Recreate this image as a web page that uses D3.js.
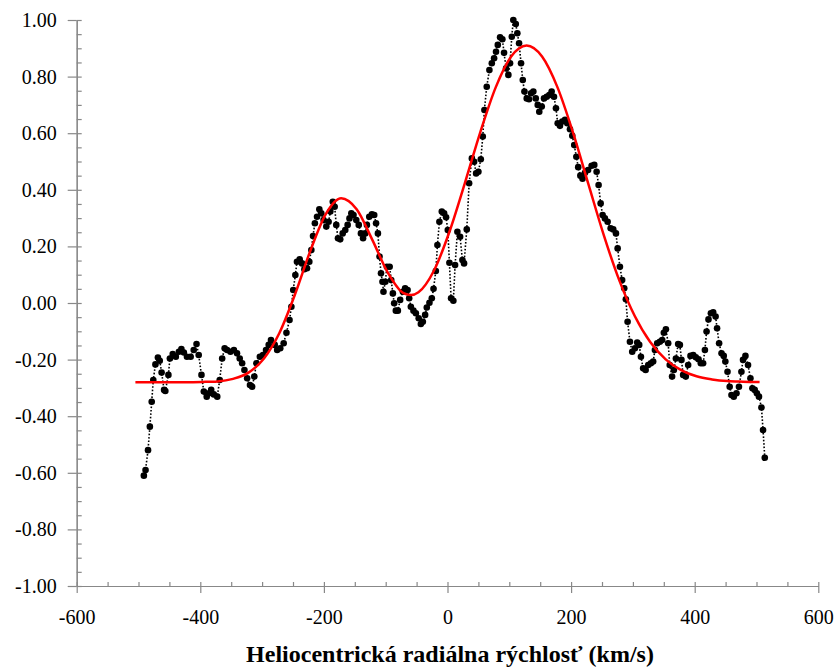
<!DOCTYPE html>
<html><head><meta charset="utf-8">
<script src="https://cdn.jsdelivr.net/npm/d3@7"></script>
<style>
body{margin:0;background:#fff;}
svg{display:block;}
text{font-family:"Liberation Serif","Times New Roman",serif;}
</style></head>
<body>
<svg id="chart" width="839" height="670"></svg>
<script>
// Observed spectrum (velocity km/s, normalised flux)
const obsV = [-491.3,-488.6,-484.6,-481.6,-478.6,-476.1,-472.6,-468.6,-465.6,-462.6,-458.6,-456.6,-451.6,-449.2,-444.6,-439.6,-434.6,-430.6,-426.6,-421.6,-415.6,-410.6,-406.1,-402.6,-398.1,-394.3,-389.6,-386.2,-382.4,-378.2,-372.6,-368.6,-364.6,-360.6,-356.6,-351.2,-345.6,-340.6,-336.2,-332.3,-328.6,-324.2,-319.6,-316.1,-312.6,-309.2,-303.6,-298.6,-293.6,-289.3,-285.6,-279.6,-275.6,-270.6,-265.1,-260.6,
-255.6,-252.6,-249.6,-246.2,-243.6,-239.2,-235.4,-231.6,-227.3,-223.6,-220.3,-217.6,-214.6,-211.1,-207.4,-204.2,-200.5,-196.1,-192.4,-189.6,-185.6,-182.6,-180,-177.2,-173.6,-169.6,-165.4,-161.6,-158.6,-155.6,-152.1,-147.6,-143.6,-140.1,-136.6,-133.1,-130.4,-126.6,-122.3,-118.6,-115.6,-112.6,-110,-107.6,-105.2,-103.6,-100.6,-98.1,-93.6,-91.1,-88.4,-86.3,-83.6,-80.3,-76.6,-72.2,-68.6,-64.6,-62,-59.3,-55.1,-51.2,-46.6,-43.1,-39.9,-36.2,-33.5,-29.2,-25.4,-22.6,-18.9,-16.3,-13.1,-9.2,-5.5,-2.3,0.5,3.1,5.8,9.5,12.3,16,20.4,24.1,26.8,31.2,
35,39.4,43.1,46.3,50,53.9,57.1,59.7,63.5,67.8,71.7,75.4,78.5,81.4,85.1,88.8,91.5,94.8,98.5,101.2,104,106.5,110.5,113,115.8,119,121.8,124.5,128.2,131.9,135.2,138.9,142.8,146,148.5,152.5,156.2,160.5,164.7,168.5,172.3,175.5,178.3,182,185.7,190.1,193.8,198.2,201.9,205.1,208.5,211.5,215,218.5,222.5,227.5,233.2,237.5,241.3,244.5,247.8,251,254.7,259.1,264,268.2,272.6,275.3,279,282.6,286,288.6,291.4,295.2,298.9,303.3,307,310.2,313,316.6,320.6,324.8,329.1,332.8,335.6,339.3,343.6,347.4,350.1,353.4,357.1,359.6,363.4,366.3,369.6,373.2,376,378.6,381.3,385.6,389.4,393.2,397.6,401.8,406.2,409.9,413.6,416.5,419.2,422.3,426.2,429.9,433.8,436.2,439.5,443.4,447,449.6,453.1,456.6,459.5,463.2,467.6,471.6,475.6,478.2,482.1,486.3,490.2,493.4,497.1,500.6,504,508,510.6,513.4];
const obsFlux = [-0.610,-0.590,-0.520,-0.437,-0.349,-0.272,-0.217,-0.193,-0.204,-0.246,-0.307,-0.311,-0.254,-0.196,-0.180,-0.190,-0.172,-0.163,-0.175,-0.190,-0.190,-0.166,-0.145,-0.184,-0.254,-0.313,-0.331,-0.319,-0.307,-0.323,-0.331,-0.272,-0.196,-0.160,-0.166,-0.172,-0.166,-0.178,-0.196,-0.213,-0.237,-0.266,-0.290,-0.296,-0.260,-0.213,-0.190,-0.184,-0.166,-0.148,-0.131,-0.148,-0.166,-0.160,-0.142,-0.105,
-0.060,-0.013,0.046,0.099,0.146,0.154,0.140,0.119,0.123,0.146,0.187,0.237,0.282,0.305,0.331,0.317,0.293,0.270,0.287,0.323,0.358,0.340,0.276,0.229,0.225,0.246,0.258,0.276,0.299,0.317,0.311,0.293,0.276,0.246,0.229,0.246,0.276,0.305,0.313,0.311,0.282,0.246,0.164,0.105,0.075,0.040,0.075,0.128,0.128,0.081,0.034,-0.001,-0.027,-0.027,0.011,0.040,0.052,0.046,0.017,-0.013,-0.027,-0.036,-0.054,-0.074,-0.066,-0.042,-0.016,0.001,0.017,0.050,0.113,0.205,0.287,0.323,0.317,0.303,0.258,0.142,0.017,0.008,0.134,0.252,0.234,0.152,0.140,0.260,
0.423,0.511,0.499,0.458,0.464,0.508,0.588,0.682,0.764,0.823,0.847,0.865,0.888,0.912,0.939,0.932,0.884,0.829,0.806,0.847,0.941,1.000,0.986,0.953,0.918,0.847,0.788,0.747,0.723,0.720,0.741,0.747,0.723,0.700,0.676,0.694,0.723,0.729,0.735,0.747,0.729,0.688,0.635,0.626,0.641,0.647,0.635,0.614,0.591,0.558,0.517,0.480,0.450,0.439,0.460,0.470,0.485,0.488,0.464,0.417,0.352,0.311,0.299,0.287,0.264,0.260,0.246,0.193,0.128,0.081,0.052,0.013,-0.066,-0.137,-0.172,-0.160,-0.140,-0.148,-0.190,-0.231,-0.237,-0.219,-0.213,-0.207,-0.166,-0.142,-0.137,-0.131,-0.105,-0.093,-0.142,-0.219,-0.260,-0.237,-0.196,-0.145,-0.148,-0.201,-0.254,-0.260,-0.219,-0.187,-0.184,-0.192,-0.199,-0.213,-0.213,-0.166,-0.101,-0.058,-0.036,-0.033,-0.048,-0.089,-0.142,-0.178,-0.187,-0.207,-0.243,-0.296,-0.325,-0.331,-0.319,-0.296,-0.243,-0.201,-0.187,-0.219,-0.266,-0.301,-0.307,-0.319,-0.331,-0.369,-0.449,-0.547];

// Fitted profile (red curve)
const fitV = [-505,-472,-447,-422,-397,-372,-347,-322,-297,-272,-247,-222,-197,-172,-147,-122,-97,-72,-59,-47,-22,3,28,53,78,103,128,153,178,203,228,253,278,303,328,353,378,403,428,453,478,505];
const fitFlux = [-0.280,-0.280,-0.280,-0.280,-0.279,-0.277,-0.268,-0.246,-0.196,-0.106,0.029,0.184,0.314,0.370,0.331,0.225,0.109,0.036,0.028,0.038,0.114,0.251,0.423,0.603,0.762,0.871,0.910,0.871,0.762,0.603,0.420,0.239,0.080,-0.046,-0.138,-0.199,-0.237,-0.259,-0.270,-0.276,-0.278,-0.279];

const xMajor = [-600,-400,-200,0,200,400,600];
const yMajor = [-1,-0.8,-0.6,-0.4,-0.2,0,0.2,0.4,0.6,0.8,1];
const xTitle = "Heliocentrická radiálna rýchlosť (km/s)";

const svg = d3.select("#chart");
const x = d3.scaleLinear().domain([-600,600]).range([76.7,818.3]);
const y = d3.scaleLinear().domain([-1,1]).range([586,20]);
const axisColor = "#888888";
const fmtX = d => String(d3.format("d")(d)).replace("\u2212","-");
const fmtY = d => String(d3.format(".2f")(d)).replace("\u2212","-");

const xMinor = d3.range(-600,601,50);
const yMinor = d3.range(-1,1.0001,0.05);

// outward major ticks + labels
const gx = svg.append("g").attr("transform",`translate(0,${y(-1)})`)
  .call(d3.axisBottom(x).tickValues(xMajor).tickSizeInner(7).tickSizeOuter(0).tickPadding(17).tickFormat(fmtX));
const gy = svg.append("g").attr("transform",`translate(${x(-600)},0)`)
  .call(d3.axisLeft(y).tickValues(yMajor).tickSizeInner(9).tickSizeOuter(0).tickPadding(11).tickFormat(fmtY));
// inward minor ticks
const gx2 = svg.append("g").attr("transform",`translate(0,${y(-1)})`)
  .call(d3.axisBottom(x).tickValues(xMinor).tickSizeInner(-4).tickSizeOuter(0).tickFormat(""));
const gy2 = svg.append("g").attr("transform",`translate(${x(-600)},0)`)
  .call(d3.axisLeft(y).tickValues(yMinor).tickSizeInner(-5).tickSizeOuter(0).tickFormat(""));

[gx,gy,gx2,gy2].forEach(g=>{
  g.attr("font-family","'Liberation Serif', serif").attr("font-size",20);
  g.selectAll("path.domain").attr("stroke",axisColor).attr("stroke-width",1.2);
  g.selectAll(".tick line").attr("stroke",axisColor).attr("stroke-width",1.2);
  g.selectAll(".tick text").attr("fill","#000").style("font-size","20px").style("font-family","'Liberation Serif',serif");
});

// title
svg.append("text").attr("x",450).attr("y",662).attr("text-anchor","middle")
  .style("font-size","24px").style("font-weight","bold").text(xTitle);

const obs = obsV.map((v,i)=>({v, f:obsFlux[i]}));
const fit = fitV.map((v,i)=>({v, f:fitFlux[i]}));

// dotted connecting line
svg.append("path").datum(obs)
  .attr("d", d3.line().x(d=>x(d.v)).y(d=>y(d.f)))
  .attr("fill","none").attr("stroke","#000").attr("stroke-width",1.6)
  .attr("stroke-dasharray","1.6,1.8");

// dots
svg.append("g").selectAll("circle").data(obs).join("circle")
  .attr("cx",d=>x(d.v)).attr("cy",d=>y(d.f)).attr("r",3.3).attr("fill","#000");

// fitted curve
svg.append("path").datum(fit)
  .attr("d", d3.line().curve(d3.curveMonotoneX).x(d=>x(d.v)).y(d=>y(d.f)))
  .attr("fill","none").attr("stroke","#ff0000").attr("stroke-width",2.5);
</script>
</body></html>
